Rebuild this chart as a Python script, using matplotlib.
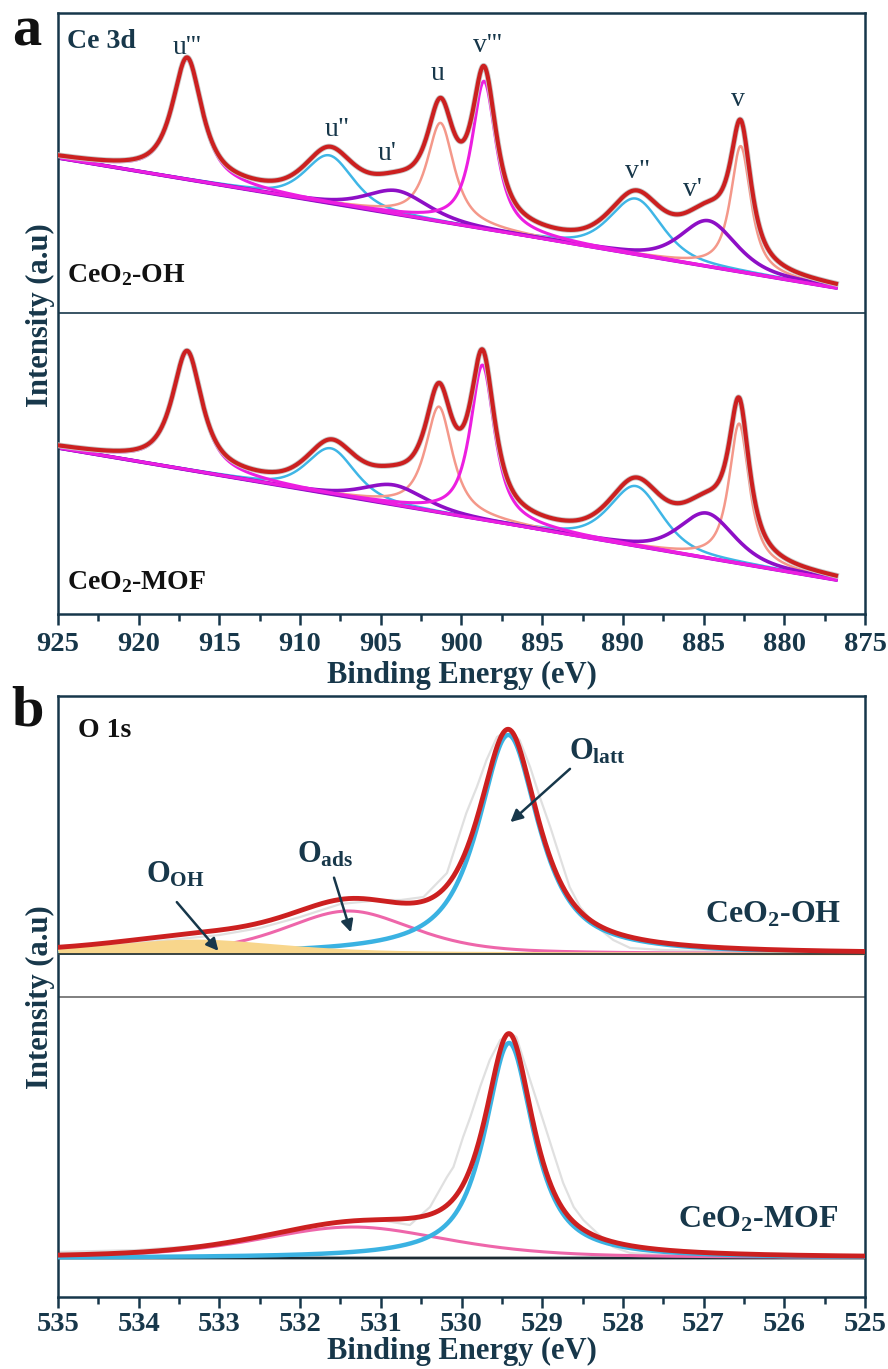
import numpy as np
import matplotlib.pyplot as plt
from matplotlib.ticker import MultipleLocator

plt.rcParams['font.family'] = 'Liberation Serif'
plt.rcParams['mathtext.fontset'] = 'custom'
plt.rcParams['mathtext.rm'] = 'Liberation Serif:bold'
plt.rcParams['mathtext.bf'] = 'Liberation Serif:bold'
plt.rcParams['mathtext.it'] = 'Liberation Serif:bold'
plt.rcParams['mathtext.default'] = 'bf'

ink = '#17374a'

# ---- Ce 3d fit parameters (offset intensity units) ----
ce_labels = ["u'''", 'u"', "u'", 'u', "v'''", 'v"', "v'", 'v']
ce_colors = ['#ec1ee0', '#3fb6e6', '#8e0fc6', '#f4988a',
             '#ec1ee0', '#3fb6e6', '#8e0fc6', '#f4988a']
ce_widths = [2.2, 1.8, 2.6, 1.8, 2.2, 1.8, 2.6, 1.8]
ce_eta = [0.85, 0.5, 0.5, 0.85, 0.85, 0.5, 0.5, 0.85]
ce_fwhm = [2.2, 3.5, 4.5, 2.0, 1.8, 3.8, 4.0, 1.5]

ce_center_oh = [917.0, 908.2, 904.0, 901.3, 898.6, 889.2, 884.7, 882.7]
ce_height_oh = [120, 48, 24, 99, 148, 56, 46, 126]
ce_bg_oh = [456, 326]

ce_center_mof = [917.0, 908.1, 904.2, 901.4, 898.7, 889.2, 884.8, 882.8]
ce_height_mof = [117, 46, 20, 106, 155, 60, 45, 140]
ce_bg_mof = [166, 34]

ce_label_x = [917.0, 907.7, 904.6, 901.5, 898.4, 889.1, 885.7, 882.9]
ce_label_y = [566, 484, 460, 540, 568, 442, 425, 514]

# ---- O 1s fit parameters ----
o_names = ['$O_{OH}$', '$O_{ads}$', '$O_{latt}$']
o_center_oh = [533.3, 531.4, 529.42]
o_height_oh = [13, 43, 219]
o_fwhm_oh = [2.5, 1.9, 0.9]
o_base_oh = 343

o_center_mof = [531.35, 529.41]
o_height_mof = [31, 215]
o_fwhm_mof = [2.8, 0.72]
o_base_mof = 39

# raw O 1s traces
raw_e_oh = [535.0, 534.5, 534.0, 533.5, 533.0, 532.5, 532.0, 531.5, 531.0, 530.75,
            530.47, 530.18, 530.02, 529.94, 529.81, 529.69, 529.56, 529.42, 529.28,
            529.15, 529.03, 528.90, 528.78, 528.66, 528.53, 528.32, 528.12, 527.91,
            527.5, 527.0, 526.0, 525.0]
raw_i_oh = [351, 352, 354, 358, 362, 369, 380, 393, 397, 397,
            400, 424, 464, 484, 510, 537, 560, 567, 557,
            530, 500, 470, 440, 410, 390, 370, 357, 349,
            347, 346, 345, 344]
raw_e_mof = [535.0, 534.0, 533.0, 532.5, 532.0, 531.5, 531.01, 530.64, 530.39, 530.18,
             530.10, 529.98, 529.89, 529.77, 529.65, 529.52, 529.40, 529.32, 529.23,
             529.11, 528.99, 528.86, 528.74, 528.61, 528.49, 528.32, 528.12, 527.91,
             527.5, 527.0, 526.0, 525.0]
raw_i_mof = [45, 47, 53, 60, 68, 76, 77, 72, 90, 120,
             130, 160, 180, 210, 237, 257, 264, 260, 237,
             207, 177, 144, 114, 90, 77, 64, 50, 44,
             42, 41, 40, 40]


def pv(x, c, h, w, eta):
    lor = 1.0 / (1.0 + ((x - c) / (w / 2)) ** 2)
    gau = np.exp(-4 * np.log(2) * ((x - c) / w) ** 2)
    return h * (eta * lor + (1 - eta) * gau)


fig = plt.figure(figsize=(8.88, 13.69), dpi=100)
ax1 = fig.add_axes([58 / 888, 1 - 614 / 1369, 807 / 888, 601 / 1369])
ax2 = fig.add_axes([58 / 888, 1 - 1297 / 1369, 807 / 888, 601 / 1369])

# ---------------- panel a ----------------
e = np.linspace(925, 876.8, 1500)
for centers, heights, bg in [(ce_center_oh, ce_height_oh, ce_bg_oh),
                             (ce_center_mof, ce_height_mof, ce_bg_mof)]:
    base = np.interp(e, [876.8, 925], [bg[1], bg[0]])
    comps = [pv(e, c, h, w, et) for c, h, w, et in zip(centers, heights, ce_fwhm, ce_eta)]
    for k in [1, 5, 3, 7, 2, 6, 0, 4]:
        ax1.plot(e, base + comps[k], color=ce_colors[k], lw=ce_widths[k], zorder=2)
    env = base + np.sum(comps, axis=0)
    ax1.plot(e, env, color='#c8c8c8', lw=4.2, zorder=3)
    ax1.plot(e, env, color='#cc2020', lw=3.0, zorder=4)

for lab, lx, ly in zip(ce_labels, ce_label_x, ce_label_y):
    ax1.text(lx, ly, lab, fontsize=20, color=ink, ha='center', va='center')

ax1.axhline(301, color=ink, lw=1.2)
ax1.text(0.011, 0.952, 'Ce 3d', transform=ax1.transAxes, fontsize=20,
         fontweight='bold', color=ink, va='center')
ax1.text(0.011, 0.564, 'CeO$_2$-OH', transform=ax1.transAxes, fontsize=20,
         fontweight='bold', color='#111111', va='center')
ax1.text(0.011, 0.053, 'CeO$_2$-MOF', transform=ax1.transAxes, fontsize=20,
         fontweight='bold', color='#111111', va='center')
ax1.set_xlim(925, 875)
ax1.set_ylim(0, 601)
ax1.xaxis.set_major_locator(MultipleLocator(5))
ax1.xaxis.set_minor_locator(MultipleLocator(2.5))

# ---------------- panel b ----------------
eo = np.linspace(535, 525, 1200)
comps = [pv(eo, c, h, w, et) for c, h, w, et in
         zip(o_center_oh, o_height_oh, o_fwhm_oh, [0.5, 0.5, 0.85])]
ax2.plot(raw_e_oh, raw_i_oh, color='#e0e0e0', lw=1.6, zorder=2)
ax2.plot(eo, o_base_oh + comps[1], color='#ee66aa', lw=2.2, zorder=3)
ax2.plot(eo, o_base_oh + comps[2], color='#3ab2e2', lw=3.2, zorder=3)
ax2.fill_between(eo, o_base_oh, o_base_oh + comps[0], color='#f8d68c', lw=0, zorder=3.5)
ax2.plot(eo, o_base_oh + comps[0], color='#f8d68c', lw=2, zorder=3.5)
ax2.plot(eo, np.full_like(eo, o_base_oh), color='#1b2b33', lw=1.2, zorder=3.6)
ax2.plot(eo, o_base_oh + np.sum(comps, axis=0), color='#cc2020', lw=3.5, zorder=4)

comps = [pv(eo, c, h, w, et) for c, h, w, et in
         zip(o_center_mof, o_height_mof, o_fwhm_mof, [0.5, 0.85])]
ax2.plot(eo, np.full_like(eo, o_base_mof), color='#1b2b33', lw=2.0, zorder=2)
ax2.plot(raw_e_mof, raw_i_mof, color='#e0e0e0', lw=1.6, zorder=2)
ax2.plot(eo, o_base_mof + comps[0], color='#ee66aa', lw=2.2, zorder=3)
ax2.plot(eo, o_base_mof + comps[1], color='#3ab2e2', lw=3.2, zorder=3)
ax2.plot(eo, o_base_mof + np.sum(comps, axis=0), color='#cc2020', lw=3.5, zorder=4)

ax2.axhline(300, color='#6a6a6a', lw=1.2)

arrow = dict(arrowstyle='-|>', color=ink, lw=1.8, mutation_scale=18)
ax2.annotate('', xy=(532.99, 344), xytext=(533.55, 397), arrowprops=arrow, zorder=6)
ax2.annotate('', xy=(531.36, 362), xytext=(531.59, 422), arrowprops=arrow, zorder=6)
ax2.annotate('', xy=(529.42, 473), xytext=(528.63, 530), arrowprops=arrow, zorder=6)
for name, tx, ty in zip(o_names, [533.55, 531.69, 528.32], [422, 442, 545]):
    ax2.text(tx, ty, name, fontsize=22, color=ink, ha='center', va='center')

ax2.text(0.025, 0.943, 'O 1s', transform=ax2.transAxes, fontsize=20,
         fontweight='bold', color='#111111', va='center')
ax2.text(0.971, 0.636, 'CeO$_2$-OH', transform=ax2.transAxes, fontsize=23,
         fontweight='bold', color=ink, va='center', ha='right')
ax2.text(0.967, 0.128, 'CeO$_2$-MOF', transform=ax2.transAxes, fontsize=23,
         fontweight='bold', color=ink, va='center', ha='right')
ax2.set_xlim(535, 525)
ax2.set_ylim(0, 601)
ax2.xaxis.set_major_locator(MultipleLocator(1))
ax2.xaxis.set_minor_locator(MultipleLocator(0.5))

for ax, tpad, lpad in ((ax1, 5, 3), (ax2, 2.5, 0)):
    ax.set_yticks([])
    for s in ax.spines.values():
        s.set_color(ink)
        s.set_linewidth(1.8)
    ax.tick_params(axis='x', which='major', direction='out', length=8, width=1.8,
                   color=ink, labelsize=20.5, labelcolor=ink, pad=tpad)
    ax.tick_params(axis='x', which='minor', direction='out', length=5, width=1.8, color=ink)
    for t in ax.get_xticklabels():
        t.set_fontweight('bold')
    ax.set_xlabel('Binding Energy (eV)', fontsize=22, fontweight='bold', color=ink, labelpad=lpad)

fig.text(40 / 888, 1 - 315 / 1369, 'Intensity (a.u)', rotation=90, fontsize=22,
         fontweight='bold', color=ink, ha='center', va='center')
fig.text(40 / 888, 1 - 997 / 1369, 'Intensity (a.u)', rotation=90, fontsize=22,
         fontweight='bold', color=ink, ha='center', va='center')
fig.text(27 / 888, 1 - 32 / 1369, 'a', fontsize=42, fontweight='bold', color='#111111',
         ha='center', va='center')
fig.text(28 / 888, 1 - 712 / 1369, 'b', fontsize=42, fontweight='bold', color='#111111',
         ha='center', va='center')

fig.savefig('out.png', dpi=100)
